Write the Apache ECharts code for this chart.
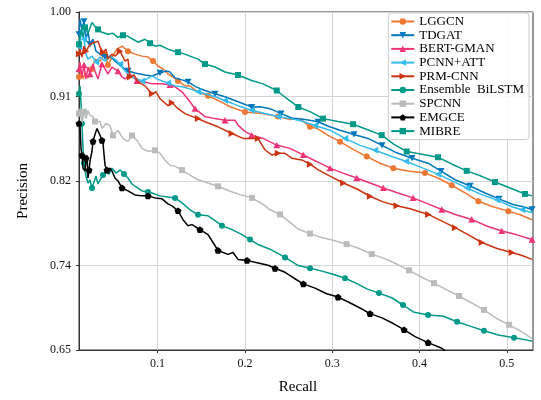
<!DOCTYPE html>
<html><head><meta charset="utf-8">
<script src="https://cdn.jsdelivr.net/npm/echarts@6/dist/echarts.min.js"></script>
<style>html,body{margin:0;padding:0;background:#fff}#c{width:541px;height:400px}</style>
</head><body><div id="c"></div>
<script>
const seriesNames = ['LGGCN','TDGAT','BERT-GMAN','PCNN+ATT','PRM-CNN','Ensemble  BiLSTM','SPCNN','EMGCE','MIBRE'];

const lggcnRecall = [.0100,.0123,.0146,.0169,.0203,.0249,.0283,.0341,.0398,.0432,.0478,.0535,.0593,.0661,.0741,.0822,.0890,.0948,.1005,.1062,.1119,.1177,.1234,.1314,.1371,.1463,.1578,.1692,.1830,.2001,.2196,.2379,.2517,.2632,.2746,.2826,.2952,.3090,.3239,.3396,.3548,.3700,.3869,.4063,.4212,.4369,.4522,.4674,.4842,.5018,.5152,.5289];
const lggcnPrecision = [.9327,.9389,.9307,.9369,.9317,.9410,.9512,.9492,.9584,.9451,.9533,.9615,.9646,.9594,.9564,.9543,.9533,.9492,.9441,.9410,.9358,.9327,.9286,.9235,.9235,.9170,.9132,.9084,.9019,.8965,.8948,.8917,.8886,.8896,.8811,.8794,.8722,.8657,.8578,.8503,.8434,.8383,.8353,.8332,.8281,.8206,.8126,.8041,.7983,.7938,.7901,.7849];

const tdgatRecall = [.0100,.0111,.0134,.0157,.0180,.0203,.0226,.0260,.0295,.0341,.0398,.0455,.0512,.0593,.0661,.0741,.0856,.0936,.1028,.1097,.1142,.1200,.1280,.1349,.1440,.1543,.1658,.1772,.1921,.2078,.2173,.2288,.2414,.2536,.2689,.2838,.2964,.3090,.3250,.3410,.3571,.3739,.3914,.4098,.4247,.4407,.4579,.4751,.4911,.5071,.5186,.5289];
const tdgatPrecision = [.9769,.9923,.9820,.9902,.9718,.9800,.9666,.9718,.9594,.9564,.9533,.9543,.9492,.9430,.9389,.9369,.9348,.9338,.9369,.9389,.9379,.9317,.9297,.9276,.9225,.9187,.9153,.9122,.9071,.9016,.9020,.8999,.8948,.8903,.8886,.8863,.8814,.8776,.8732,.8691,.8619,.8542,.8486,.8434,.8353,.8263,.8198,.8126,.8065,.8007,.7983,.7955];

const bertRecall = [.0100,.0111,.0134,.0157,.0180,.0203,.0226,.0260,.0283,.0318,.0363,.0398,.0432,.0478,.0547,.0593,.0627,.0684,.0764,.0856,.0936,.1051,.1142,.1200,.1280,.1326,.1371,.1429,.1543,.1658,.1772,.1887,.1921,.2001,.2078,.2208,.2365,.2517,.2669,.2815,.2975,.3124,.3281,.3433,.3586,.3754,.3926,.4098,.4255,.4418,.4598,.4762,.4942,.5106,.5289];
const bertPrecision = [.9410,.9482,.9327,.9451,.9307,.9430,.9358,.9461,.9389,.9307,.9461,.9410,.9358,.9430,.9389,.9327,.9307,.9358,.9286,.9276,.9256,.9256,.9245,.9225,.9174,.9122,.9071,.8999,.8917,.8896,.8879,.8879,.8828,.8763,.8725,.8691,.8622,.8588,.8520,.8455,.8383,.8332,.8281,.8229,.8178,.8126,.8075,.8013,.7955,.7901,.7852,.7787,.7733,.7695,.7644];

const pcnnRecall = [.0100,.0111,.0134,.0157,.0180,.0203,.0249,.0295,.0341,.0398,.0455,.0512,.0570,.0627,.0707,.0764,.0822,.0879,.0936,.0993,.1051,.1119,.1200,.1280,.1371,.1463,.1543,.1658,.1772,.1921,.2078,.2231,.2379,.2517,.2632,.2803,.2975,.3147,.3319,.3491,.3682,.3845,.4040,.4212,.4384,.4544,.4713,.4888,.5057,.5175,.5289];
const pcnnPrecision = [.9641,.9666,.9820,.9718,.9564,.9512,.9543,.9482,.9533,.9492,.9543,.9512,.9461,.9389,.9327,.9307,.9286,.9307,.9338,.9307,.9286,.9266,.9235,.9225,.9204,.9174,.9153,.9122,.9084,.9030,.8982,.8948,.8917,.8896,.8876,.8824,.8776,.8691,.8619,.8568,.8503,.8455,.8383,.8321,.8246,.8178,.8109,.8054,.7983,.7952,.7921];

const prmRecall = [.0100,.0111,.0134,.0157,.0180,.0226,.0283,.0318,.0341,.0375,.0409,.0432,.0478,.0512,.0570,.0627,.0661,.0684,.0730,.0776,.0856,.0936,.0982,.1028,.1119,.1165,.1234,.1314,.1371,.1463,.1543,.1692,.1849,.1979,.2059,.2150,.2231,.2308,.2379,.2460,.2536,.2651,.2746,.2841,.2975,.3128,.3284,.3433,.3582,.3739,.3892,.4101,.4247,.4407,.4556,.4713,.4888,.5057,.5175,.5289];
const prmPrecision = [.9564,.9615,.9533,.9646,.9594,.9666,.9687,.9697,.9635,.9584,.9615,.9512,.9564,.9543,.9594,.9492,.9512,.9327,.9348,.9276,.9235,.9153,.9174,.9102,.9030,.9061,.8999,.8948,.8927,.8896,.8863,.8811,.8742,.8691,.8691,.8691,.8571,.8520,.8537,.8537,.8486,.8468,.8424,.8366,.8301,.8229,.8167,.8092,.8034,.7993,.7962,.7904,.7839,.7767,.7695,.7613,.7551,.7510,.7479,.7438];

const ensembleRecall = [.0100,.0111,.0123,.0134,.0146,.0157,.0180,.0203,.0226,.0249,.0272,.0295,.0318,.0341,.0375,.0409,.0444,.0478,.0524,.0570,.0615,.0661,.0707,.0753,.0822,.0890,.0936,.1028,.1119,.1200,.1280,.1371,.1463,.1578,.1658,.1738,.1853,.1967,.2059,.2150,.2288,.2460,.2612,.2746,.2861,.3010,.3147,.3273,.3396,.3536,.3682,.3811,.3929,.4098,.4273,.4430,.4579,.4739,.4903,.5083,.5266,.5289];
const ensemblePrecision = [.9153,.9235,.9051,.8845,.8588,.8434,.8301,.8229,.8260,.8178,.8239,.8301,.8219,.8260,.8311,.8342,.8322,.8383,.8332,.8363,.8322,.8281,.8219,.8188,.8147,.8137,.8126,.8096,.8085,.8075,.8024,.7952,.7901,.7890,.7839,.7787,.7746,.7695,.7644,.7593,.7544,.7459,.7374,.7346,.7322,.7284,.7243,.7192,.7133,.7089,.7041,.6966,.6894,.6863,.6850,.6792,.6747,.6699,.6655,.6627,.6597,.6591];

const spcnnRecall = [.0100,.0111,.0134,.0157,.0180,.0203,.0226,.0260,.0283,.0341,.0363,.0409,.0455,.0489,.0547,.0604,.0661,.0707,.0764,.0822,.0890,.0971,.1028,.1085,.1142,.1200,.1280,.1371,.1463,.1543,.1692,.1830,.1944,.2082,.2208,.2288,.2402,.2506,.2612,.2746,.2880,.3021,.3166,.3307,.3453,.3594,.3739,.3880,.4026,.4166,.4312,.4453,.4598,.4739,.4885,.5026,.5171,.5289];
const spcnnPrecision = [.8948,.8999,.8845,.8968,.8896,.8978,.8927,.8917,.8866,.8866,.8794,.8845,.8824,.8722,.8773,.8691,.8660,.8722,.8671,.8588,.8558,.8568,.8537,.8465,.8414,.8404,.8363,.8311,.8263,.8239,.8195,.8144,.8109,.8075,.8007,.7952,.7904,.7829,.7750,.7705,.7664,.7633,.7596,.7551,.7493,.7449,.7390,.7325,.7253,.7192,.7123,.7059,.6987,.6915,.6826,.6761,.6689,.6617];

const emgceRecall = [.0100,.0111,.0123,.0134,.0146,.0169,.0180,.0192,.0203,.0215,.0226,.0249,.0260,.0283,.0306,.0318,.0341,.0363,.0375,.0398,.0421,.0455,.0478,.0512,.0547,.0593,.0661,.0741,.0822,.0890,.0971,.1051,.1119,.1165,.1234,.1291,.1349,.1394,.1486,.1578,.1635,.1692,.1807,.1864,.1921,.2024,.2116,.2265,.2345,.2460,.2563,.2669,.2803,.2937,.3067,.3185,.3319,.3433,.3571,.3700,.3823,.3949,.4098,.4255,.4304];
const emgcePrecision = [.8845,.8824,.8588,.8516,.8383,.8353,.8486,.8516,.8281,.8363,.8455,.8558,.8660,.8732,.8794,.8814,.8722,.8671,.8640,.8414,.8363,.8383,.8353,.8281,.8250,.8178,.8147,.8106,.8096,.8096,.8075,.8065,.8013,.7993,.7942,.7849,.7787,.7798,.7746,.7695,.7613,.7531,.7490,.7510,.7438,.7428,.7408,.7377,.7346,.7305,.7243,.7185,.7141,.7082,.7048,.6997,.6935,.6877,.6833,.6774,.6710,.6638,.6576,.6518,.6484];

const mibreRecall = [.0100,.0123,.0146,.0169,.0203,.0249,.0283,.0318,.0363,.0432,.0489,.0547,.0604,.0661,.0719,.0776,.0856,.0913,.0971,.1028,.1119,.1234,.1314,.1371,.1463,.1543,.1658,.1772,.1921,.2078,.2208,.2365,.2483,.2612,.2746,.2895,.3067,.3239,.3399,.3567,.3708,.3854,.4029,.4212,.4373,.4541,.4705,.4865,.5037,.5209,.5289];
const mibrePrecision = [.9666,.9820,.9738,.9841,.9779,.9892,.9851,.9820,.9790,.9769,.9779,.9738,.9759,.9748,.9718,.9687,.9718,.9677,.9646,.9656,.9615,.9584,.9564,.9543,.9512,.9461,.9430,.9379,.9348,.9290,.9256,.9187,.9102,.9016,.8968,.8896,.8866,.8838,.8783,.8725,.8629,.8555,.8527,.8496,.8424,.8355,.8301,.8239,.8178,.8116,.8096];

const xTickValues = [0.1, 0.2, 0.3, 0.4, 0.5];
const xTickLabels = ['0.1', '0.2', '0.3', '0.4', '0.5'];
const yTickLabels = ['0.65', '0.74', '0.82', '0.91', '1.00'];

const recalls = [lggcnRecall, tdgatRecall, bertRecall, pcnnRecall, prmRecall, ensembleRecall, spcnnRecall, emgceRecall, mibreRecall];
const precisions = [lggcnPrecision, tdgatPrecision, bertPrecision, pcnnPrecision, prmPrecision, ensemblePrecision, spcnnPrecision, emgcePrecision, mibrePrecision];

const styles = [
  {color:'#EE7733', symbol:'circle', size:6},
  {color:'#0077BB', symbol:'path://M0,0 L10,0 L5,9 Z', size:7},
  {color:'#EE3377', symbol:'path://M5,0 L10,9 L0,9 Z', size:7},
  {color:'#33BBEE', symbol:'path://M0,5 L9,0 L9,10 Z', size:7},
  {color:'#CC3311', symbol:'path://M9,5 L0,0 L0,10 Z', size:7},
  {color:'#009988', symbol:'circle', size:6},
  {color:'#BBBBBB', symbol:'rect', size:6},
  {color:'#000000', symbol:'path://M5,0 L9.755,3.455 L7.939,9.045 L2.061,9.045 L0.245,3.455 Z', size:7},
  {color:'#009988', symbol:'rect', size:6}
];

const FONT = 'Liberation Serif';
const X_MIN = 0.01, X_MAX = 0.53, Y_MIN = 0.65, Y_MAX = 1.0;
const GRID = {left:79, right:8, top:12, bottom:46};
const PW = 541 - GRID.left - GRID.right, PH = 400 - GRID.top - GRID.bottom;

function markerSet(rec, prec, spacing) {
  const s = new Set(); let acc = spacing;
  for (let i = 0; i < rec.length; i++) {
    if (i > 0) {
      const dx = (rec[i] - rec[i-1]) / (X_MAX - X_MIN) * PW;
      const dy = (prec[i] - prec[i-1]) / (Y_MAX - Y_MIN) * PH;
      acc += Math.hypot(dx, dy);
    }
    if (acc >= spacing) { s.add(i); acc = 0; }
  }
  return s;
}

const series = seriesNames.map((name, k) => {
  const st = styles[k];
  const data = recalls[k].map((r, i) => [r, precisions[k][i]]);
  const marks = markerSet(recalls[k], precisions[k], 27);
  return {
    type: 'line', name, data,
    symbol: st.symbol, showSymbol: true, showAllSymbol: true,
    symbolSize: (v, p) => marks.has(p.dataIndex) ? st.size : 0,
    symbolKeepAspect: true,
    lineStyle: {color: st.color, width: 1.5},
    itemStyle: {color: st.color, borderWidth: 0},
    emphasis: {disabled: true},
    animation: false, clip: true, z: 2 + k * 0.01
  };
});

const chart = echarts.init(document.getElementById('c'), null, {renderer: 'canvas'});
chart.setOption({
  animation: false,
  backgroundColor: '#fff',
  grid: {left: GRID.left, right: GRID.right, top: GRID.top, bottom: GRID.bottom, show: true, borderColor: '#333', borderWidth: 1},
  legend: {
    orient: 'vertical', right: 12, top: 13,
    itemWidth: 23, itemHeight: 8, itemGap: 0.7,
    padding: [2, 5, 2, 2],
    borderColor: '#cccccc', borderWidth: 1, borderRadius: 3,
    backgroundColor: 'rgba(255,255,255,0.85)',
    textStyle: {fontFamily: FONT, fontSize: 13, color: '#000', lineHeight: 13},
    data: seriesNames, selectedMode: false
  },
  xAxis: {
    type: 'value', min: X_MIN, max: X_MAX,
    name: 'Recall', nameLocation: 'middle', nameGap: 30,
    nameTextStyle: {fontFamily: FONT, fontSize: 15, color: '#000', padding: [0, 16, 0, 0]},
    axisLine: {show: true, lineStyle: {color: '#333', width: 1}},
    axisTick: {show: true, length: 3, inside: false, customValues: xTickValues, lineStyle: {color: '#333'}},
    axisLabel: {customValues: xTickValues, margin: 8, fontFamily: FONT, fontSize: 12, color: '#111',
      formatter: v => { const i = xTickValues.findIndex(t => Math.abs(t - v) < 1e-9); return i >= 0 ? xTickLabels[i] : ''; }},
    splitLine: {show: true, customValues: xTickValues, lineStyle: {color: '#d4d4d4', width: 1}}
  },
  yAxis: {
    type: 'value', min: Y_MIN, max: Y_MAX, interval: (Y_MAX - Y_MIN) / 4,
    name: 'Precision', nameLocation: 'middle', nameGap: 48,
    nameTextStyle: {fontFamily: FONT, fontSize: 15, color: '#000', padding: [0, 20, 0, 0]},
    axisLine: {show: true, lineStyle: {color: '#333', width: 1}},
    axisTick: {show: true, length: 3, inside: false, lineStyle: {color: '#333'}},
    axisLabel: {margin: 8, fontFamily: FONT, fontSize: 12, color: '#111',
      formatter: v => { const i = Math.round((v - Y_MIN) / ((Y_MAX - Y_MIN) / 4)); return yTickLabels[i] || ''; }},
    splitLine: {show: true, lineStyle: {color: '#d4d4d4', width: 1}}
  },
  series
});
</script></body></html>
